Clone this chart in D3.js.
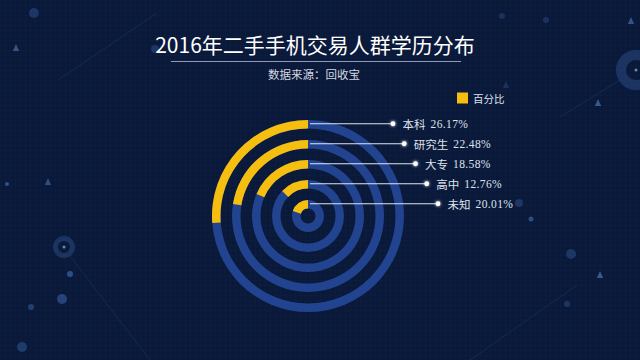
<!DOCTYPE html>
<html>
<head>
<meta charset="utf-8">
<script src="https://cdn.jsdelivr.net/npm/d3@7"></script>
<style>
html,body{margin:0;padding:0;background:#0b1a3b;}
svg{display:block;}
</style>
</head>
<body>
<svg id="chart" width="640" height="360"></svg>
<script>
// ---- data ----
const categories = ["本科", "研究生", "大专", "高中", "未知"];
const percentValues = [26.17, 22.48, 18.58, 12.76, 20.01];
const seriesName = "百分比";
const titleText = "2016年二手手机交易人群学历分布";
const subtitleText = "数据来源：回收宝";

const W = 640, H = 360;
const svg = d3.select("#chart");
const defs = svg.append("defs");

// background
svg.append("rect").attr("width", W).attr("height", H).attr("fill", "#0a193a");
const pat = defs.append("pattern").attr("id", "grid").attr("width", 5).attr("height", 5)
  .attr("patternUnits", "userSpaceOnUse");
pat.append("path").attr("d", "M5 0 L0 0 0 5").attr("fill", "none")
  .attr("stroke", "rgba(120,150,210,0.03)").attr("stroke-width", 1);
svg.append("rect").attr("width", W).attr("height", H).attr("fill", "url(#grid)");

const glow = defs.append("filter").attr("id", "glow").attr("x", "-2").attr("y", "-2").attr("width", "5").attr("height", "5");
glow.append("feGaussianBlur").attr("stdDeviation", 1.6).attr("result", "b");
const fm = glow.append("feMerge");
fm.append("feMergeNode").attr("in", "b");
fm.append("feMergeNode").attr("in", "SourceGraphic");

// decorations
const deco = svg.append("g");
const decoLines = [[58,80,157,13],[70,256,150,360],[560,117,620,80],[577,285,470,360]];
decoLines.forEach(l => deco.append("line").attr("x1", l[0]).attr("y1", l[1]).attr("x2", l[2]).attr("y2", l[3])
  .attr("stroke", "rgba(80,120,190,0.2)").attr("stroke-width", 0.8));
const decoCircles = [[34,13,5,0.3],[155,49,4,0.3],[7,184,2,0.6],[70,274,3,0.55],[62,299,5,0.45],[31,307,3,0.4],[22,347,5,0.35],
  [502,16,3,0.25],[546,20,3,0.25],[519,203,4,0.3],[531,219,2.5,0.55],[571,254,5,0.3],[567,304,3,0.3]];
decoCircles.forEach(c => deco.append("circle").attr("cx", c[0]).attr("cy", c[1]).attr("r", c[2])
  .attr("fill", `rgba(70,120,200,${c[3]})`));
[[64,247,11,6],[636,70,20,10]].forEach(c => {
  deco.append("circle").attr("cx", c[0]).attr("cy", c[1]).attr("r", (c[2]+c[3])/2)
    .attr("fill", "none").attr("stroke", "rgba(60,100,170,0.35)").attr("stroke-width", c[2]-c[3]);
  deco.append("circle").attr("cx", c[0]).attr("cy", c[1]).attr("r", 1.5).attr("fill", "rgba(150,180,230,0.7)");
});
const decoTri = [[16,48,0.5],[48,182,0.45],[631,21,0.5],[506,85,0.2],[598,103,0.55],[600,275,0.55]];
decoTri.forEach(t => deco.append("path")
  .attr("d", `M${t[0]},${t[1]-4} L${t[0]+3.2},${t[1]+3} L${t[0]-3.2},${t[1]+3}Z`)
  .attr("fill", `rgba(90,140,210,${t[2]})`));

// title
svg.append("text").attr("x", 315).attr("y", 44).attr("text-anchor", "middle")
  .attr("dominant-baseline", "central")
  .attr("font-family", "'Noto Sans CJK SC', sans-serif").attr("font-size", 21)
  .attr("fill", "#ffffff").text(titleText);
svg.append("line").attr("x1", 171).attr("x2", 461).attr("y1", 61.5).attr("y2", 61.5)
  .attr("stroke", "#8e9ab8").attr("stroke-width", 1);
svg.append("text").attr("x", 314).attr("y", 73.5).attr("text-anchor", "middle")
  .attr("dominant-baseline", "central")
  .attr("font-family", "'Noto Sans CJK SC', sans-serif").attr("font-size", 11.5)
  .attr("fill", "#d4d8e2").text(subtitleText);

// legend
svg.append("rect").attr("x", 457).attr("y", 92.5).attr("width", 11).attr("height", 11).attr("fill", "#f6be0f");
svg.append("text").attr("x", 473).attr("y", 98.5).attr("dominant-baseline", "central")
  .attr("font-family", "'Noto Sans CJK SC', sans-serif").attr("font-size", 10.5)
  .attr("fill", "#dfe3ec").text(seriesName);

// chart
const cx = 308, cy = 216;
const ringW = 8.5;
const rScale = d3.scaleLinear().domain([0, categories.length - 1]).range([96, 16]);
const aScale = d3.scaleLinear().domain([0, 100]).range([0, 2 * Math.PI]);
const arc = d3.arc();
const g = svg.append("g").attr("transform", `translate(${cx},${cy})`);

const data = categories.map((c, i) => ({cat: c, val: percentValues[i], i}));

g.selectAll("path.bg").data(data).join("path").attr("class", "bg")
  .attr("d", d => arc({innerRadius: rScale(d.i) - ringW, outerRadius: rScale(d.i), startAngle: 0, endAngle: 2 * Math.PI}))
  .attr("fill", "#22438f");
g.selectAll("path.val").data(data).join("path").attr("class", "val")
  .attr("d", d => arc({innerRadius: rScale(d.i) - ringW, outerRadius: rScale(d.i), startAngle: -aScale(d.val), endAngle: 0}))
  .attr("fill", "#f6be0f");

// labels
const dotX = d3.scaleLinear().domain([0, categories.length - 1]).range([85, 130]);
const lab = g.selectAll("g.lab").data(data).join("g").attr("class", "lab");
lab.append("line").attr("x1", 2).attr("x2", d => dotX(d.i))
  .attr("y1", d => -(rScale(d.i) - ringW / 2 + 0.5)).attr("y2", d => -(rScale(d.i) - ringW / 2 + 0.5))
  .attr("stroke", "#dfe6f5").attr("stroke-width", 1);
lab.append("circle").attr("cx", d => dotX(d.i)).attr("cy", d => -(rScale(d.i) - ringW / 2 + 0.5))
  .attr("r", 2.4).attr("fill", "#ffffff").attr("filter", "url(#glow)");
const t = lab.append("text").attr("x", d => dotX(d.i) + 9.5).attr("y", d => -(rScale(d.i) - ringW / 2 + 0.5))
  .attr("dominant-baseline", "central").attr("fill", "#dfe3ec").attr("font-size", 11.5);
t.append("tspan").attr("font-family", "'Noto Sans CJK SC', sans-serif").text(d => d.cat);
t.append("tspan").attr("font-family", "'Liberation Serif', serif").attr("dx", 5).attr("letter-spacing", 0.4)
  .text(d => d.val.toFixed(2) + "%");
</script>
</body>
</html>
